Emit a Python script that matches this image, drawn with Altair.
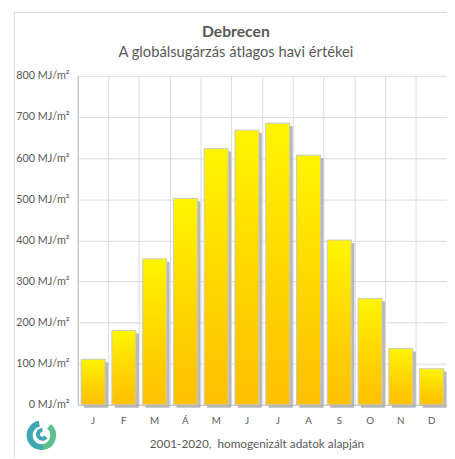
import json
import altair as alt
import pandas as pd

months = ["J", "F", "M", "Á", "M", "J", "J", "A", "S", "O", "N", "D"]
values = [111, 181, 355, 502, 623, 668, 685, 607, 401, 259, 137, 88]
y_ticks = [0, 100, 200, 300, 400, 500, 600, 700, 800]
title_text = "Debrecen"
subtitle_text = "A globálsugárzás átlagos havi értékei"
footer_text = "2001-2020,\u00a0 homogenizált adatok alapján"

df = pd.DataFrame({"idx": list(range(len(months))), "month": months, "value": values})

FONT = "Lato"
GREY = "#595959"
label_expr = json.dumps(months) + "[datum.value]"

x_enc = alt.X(
    "idx:O",
    scale=alt.Scale(paddingInner=0, paddingOuter=0),
    axis=alt.Axis(
        labelExpr=label_expr,
        labelAngle=0,
        labelFont=FONT,
        labelFontSize=10,
        labelColor=GREY,
        labelPadding=11,
        ticks=False,
        domainColor="#BFBFBF",
        grid=True,
        gridColor="#D9D9D9",
        bandPosition=0,
        title=footer_text,
        titleFont=FONT,
        titleFontSize=12,
        titleFontWeight="normal",
        titleColor=GREY,
        titleX=182,
        titleY=39,
        titleBaseline="middle",
    ),
)
y_enc = alt.Y(
    "value:Q",
    scale=alt.Scale(domain=[0, 800], nice=False),
    axis=alt.Axis(
        values=y_ticks,
        labelExpr="datum.value + ' MJ/m²'",
        labelFont=FONT,
        labelFontSize=11,
        labelColor=GREY,
        labelPadding=9,
        ticks=False,
        domainColor="#BFBFBF",
        gridColor="#D9D9D9",
        title=None,
    ),
)

gradient = alt.LinearGradient(
    gradient="linear",
    x1=0, x2=0, y1=0, y2=1,
    stops=[
        alt.GradientStop(color="#FFF500", offset=0),
        alt.GradientStop(color="#FFD400", offset=0.55),
        alt.GradientStop(color="#FFC000", offset=1),
    ],
)

base = alt.Chart(df)
shadow = base.mark_bar(
    width={"band": 0.78}, color="#A6A6A6", opacity=0.8, xOffset=3, yOffset=3
).encode(x=x_enc, y=y_enc)
bars = base.mark_bar(
    width={"band": 0.78}, color=gradient, stroke="#C8C8C8", strokeWidth=1
).encode(x=x_enc, y=y_enc)

one = pd.DataFrame({"a": [1]})
frame_top = alt.Chart(one).mark_rule(color="#D9D9D9", strokeWidth=1).encode(
    x=alt.value(-65), x2=alt.value(380), y=alt.value(-64.5)
)
frame_left = alt.Chart(one).mark_rule(color="#D9D9D9", strokeWidth=1).encode(
    x=alt.value(-64.5), y=alt.value(-65), y2=alt.value(390)
)
title_mark = alt.Chart(one).mark_text(
    text=title_text, font=FONT, fontSize=16, fontWeight="bold", color=GREY,
    align="center", baseline="alphabetic"
).encode(x=alt.value(161), y=alt.value(-40))
subtitle_mark = alt.Chart(one).mark_text(
    text=subtitle_text, font=FONT, fontSize=15, color=GREY,
    align="center", baseline="alphabetic"
).encode(x=alt.value(161), y=alt.value(-19))

logo_left = alt.Chart(one).mark_arc(
    theta=3.0, theta2=6.1, radius=9, radius2=15, color="#3FA6B4"
).encode(x=alt.value(-37), y=alt.value(366))
logo_right = alt.Chart(one).mark_arc(
    theta=0.7, theta2=3.05, radius=9, radius2=15, color="#5DC08C"
).encode(x=alt.value(-37), y=alt.value(366))
logo_inner = alt.Chart(one).mark_arc(
    theta=2.2, theta2=6.3, radius=2.5, radius2=6.5, color="#3FA6B4"
).encode(x=alt.value(-36), y=alt.value(365))

chart = alt.layer(
    frame_top, frame_left, shadow, bars, title_mark, subtitle_mark,
    logo_left, logo_right, logo_inner
).properties(
    width=376,
    height=335,
    autosize=alt.AutoSizeParams(type="none"),
    padding={"left": 71, "top": 65, "right": 0, "bottom": 50},
).configure_view(stroke=None)

chart.save("out.html", embed_options={"renderer": "svg", "actions": False})
